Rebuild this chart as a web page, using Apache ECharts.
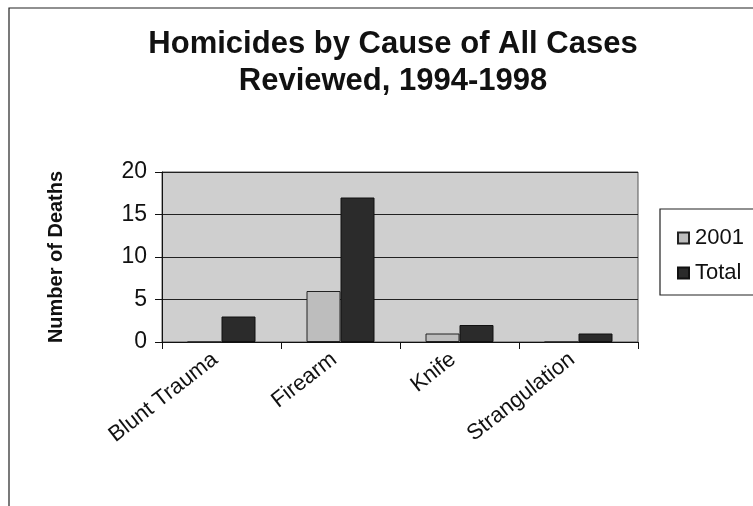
<!DOCTYPE html>
<html><head><meta charset="utf-8">
<script src="https://cdn.jsdelivr.net/npm/echarts@6/dist/echarts.min.js"></script>
<style>html,body{margin:0;padding:0;background:#fff}#c{width:753px;height:506px}</style>
</head><body><div id="c"></div>
<script>
const categories = ["Blunt Trauma", "Firearm", "Knife", "Strangulation"];
const series2001 = [0, 6, 1, 0];
const seriesTotal = [3, 17, 2, 1];
const yTicks = [0, 5, 10, 15, 20];

const chart = echarts.init(document.getElementById('c'), null, {renderer: 'canvas'});
const font = 'Liberation Sans, Arial, sans-serif';
chart.setOption({
  animation: false,
  backgroundColor: '#fff',
  title: {
    text: 'Homicides by Cause of All Cases\nReviewed, 1994-1998',
    left: 388, top: 21, textAlign: 'center',
    textStyle: {fontFamily: font, fontSize: 31, fontWeight: 'bold', color: '#111', lineHeight: 37}
  },
  legend: {
    orient: 'vertical', left: 672, top: 222, itemGap: 13,
    itemWidth: 11, itemHeight: 11, icon: 'rect',
    textStyle: {fontFamily: font, fontSize: 22, color: '#111', padding: [0,0,0,1]},
    data: ['2001', 'Total']
  },
  graphic: [
    {type: 'rect', shape: {x: 9, y: 8, width: 780, height: 520}, style: {fill: 'none', stroke: '#222', lineWidth: 1.2}, silent: true, z: 0},
    {type: 'rect', shape: {x: 660, y: 209, width: 120, height: 86}, style: {fill: 'none', stroke: '#222', lineWidth: 1.2}, silent: true, z: 0}
  ],
  grid: {left: 162, right: 115, top: 172, bottom: 164, show: true, backgroundColor: '#cfcfcf', borderColor: '#555', borderWidth: 1},
  xAxis: {
    type: 'category', data: categories,
    axisLine: {lineStyle: {color: '#111', width: 1}},
    axisTick: {show: true, alignWithLabel: false, length: 7, lineStyle: {color: '#111'}},
    axisLabel: {rotate: 38, fontFamily: font, fontSize: 22, color: '#111', margin: 10, interval: 0, padding: [0, 8, 0, 0]}
  },
  yAxis: {
    type: 'value', min: 0, max: 20, interval: 5,
    name: 'Number of Deaths', nameLocation: 'middle', nameGap: 96, nameRotate: 90,
    nameTextStyle: {fontFamily: font, fontSize: 20, fontWeight: 'bold', color: '#111'},
    axisLine: {show: true, lineStyle: {color: '#111'}},
    axisTick: {show: true, length: 7, lineStyle: {color: '#111'}},
    splitLine: {lineStyle: {color: '#222', width: 1}},
    axisLabel: {fontFamily: font, fontSize: 23, color: '#111', margin: 15,
      formatter: v => yTicks.includes(v) ? String(v) : ''}
  },
  series: [
    {name: '2001', type: 'bar', data: series2001, barWidth: 34, barGap: '0%',
      itemStyle: {color: '#bdbdbd', borderColor: '#222', borderWidth: 1}},
    {name: 'Total', type: 'bar', data: seriesTotal, barWidth: 34,
      itemStyle: {color: '#2b2b2b', borderColor: '#111', borderWidth: 1}}
  ]
});
</script></body></html>
